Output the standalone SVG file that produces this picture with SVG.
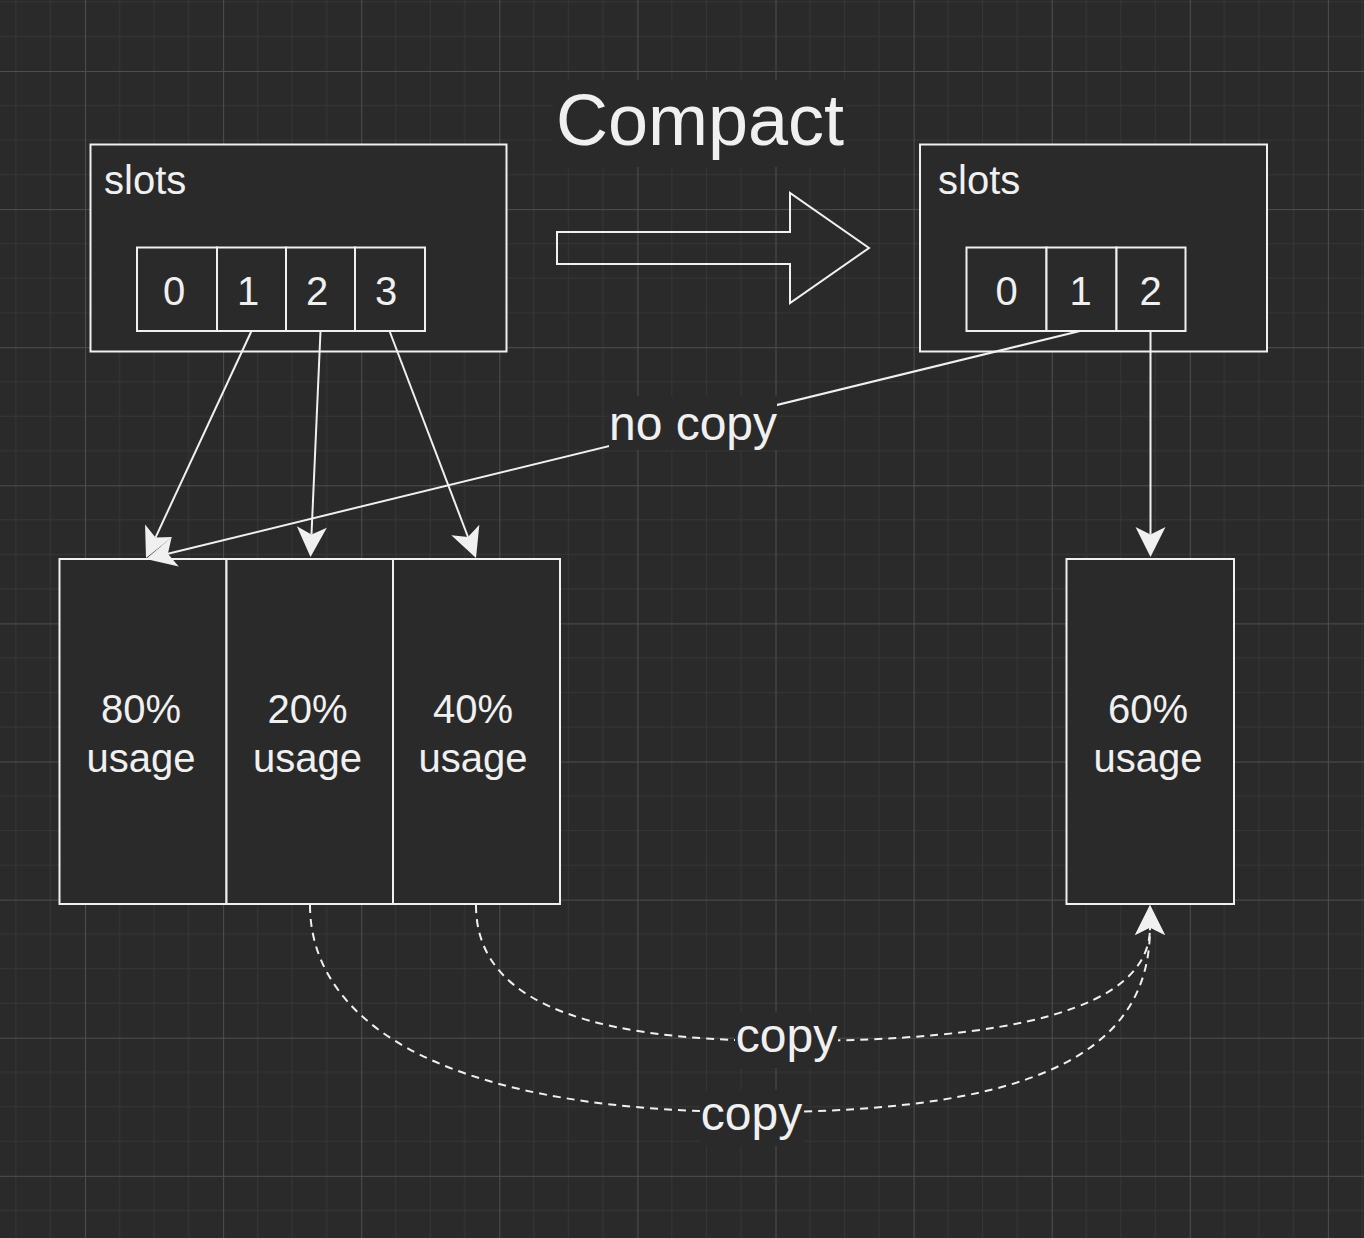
<svg xmlns="http://www.w3.org/2000/svg" width="1364" height="1238" viewBox="0 0 1364 1238">
  <style>
    .box { fill: #2a2a2a; stroke: #f0f0f0; stroke-width: 2; }
    .t { font-family: "Liberation Sans", Arial, Helvetica, sans-serif; fill: #f0f0f0; }
    .s40 { font-size: 40px; }
    .s48 { font-size: 48px; }
    .mid { text-anchor: middle; }
    .conn { fill: none; stroke: #f0f0f0; stroke-width: 2; }
    .dash { stroke-dasharray: 8 6; }
    .lblbg { fill: #2a2a2a; }
    .minor { stroke: #363636; stroke-width: 1; }
    .major { stroke: #4e4e4e; stroke-width: 1; }
  </style>
  <defs>
    <pattern id="grid" patternUnits="userSpaceOnUse" x="-53.1" y="-67.1" width="138.1" height="138.1">
      <line class="minor" x1="34.525" y1="0" x2="34.525" y2="138.1"/>
      <line class="minor" x1="69.05" y1="0" x2="69.05" y2="138.1"/>
      <line class="minor" x1="103.575" y1="0" x2="103.575" y2="138.1"/>
      <line class="minor" x1="0" y1="34.525" x2="138.1" y2="34.525"/>
      <line class="minor" x1="0" y1="69.05" x2="138.1" y2="69.05"/>
      <line class="minor" x1="0" y1="103.575" x2="138.1" y2="103.575"/>
      <line class="major" x1="0.5" y1="0" x2="0.5" y2="138.1"/>
      <line class="major" x1="0" y1="0.5" x2="138.1" y2="0.5"/>
    </pattern>
    <marker id="arrow" markerUnits="userSpaceOnUse" orient="auto" refX="0" refY="0" markerWidth="60" markerHeight="60" viewBox="-30 -30 60 60" overflow="visible">
      <path d="M22.5,0 L-7.5,-15 L0,0 L-7.5,15 Z" fill="#f0f0f0" stroke="none"/>
    </marker>
  </defs>

  <rect x="0" y="0" width="1364" height="1238" fill="#2a2a2a"/>
  <rect x="0" y="0" width="1364" height="1238" fill="url(#grid)"/>

  <g id="title">
    <rect class="lblbg" x="553" y="80" width="293" height="87"/>
    <text class="t mid" x="700" y="145" font-size="72">Compact</text>
  </g>

  <g id="compact-arrow">
    <polygon points="557,232 790,232 790,193 869,248 790,303 790,264 557,264" fill="none" stroke="#f0f0f0" stroke-width="2"/>
  </g>

  <g id="slots-before">
    <rect class="box" x="90.5" y="144.5" width="416" height="207"/>
    <text class="t s40" x="104" y="194">slots</text>
    <g id="slot-before-0"><rect class="box" x="137" y="247.5" width="80" height="83.5"/><text class="t s40 mid" x="174" y="305">0</text></g>
    <g id="slot-before-1"><rect class="box" x="217" y="247.5" width="69" height="83.5"/><text class="t s40 mid" x="248" y="305">1</text></g>
    <g id="slot-before-2"><rect class="box" x="286" y="247.5" width="69" height="83.5"/><text class="t s40 mid" x="317" y="305">2</text></g>
    <g id="slot-before-3"><rect class="box" x="355" y="247.5" width="70" height="83.5"/><text class="t s40 mid" x="386" y="305">3</text></g>
  </g>

  <g id="slots-after">
    <rect class="box" x="920" y="144.5" width="347" height="207"/>
    <text class="t s40" x="938" y="194">slots</text>
    <g id="slot-after-0"><rect class="box" x="966.5" y="247.5" width="80" height="83.5"/><text class="t s40 mid" x="1006.5" y="305">0</text></g>
    <g id="slot-after-1"><rect class="box" x="1046.5" y="247.5" width="70" height="83.5"/><text class="t s40 mid" x="1080.5" y="305">1</text></g>
    <g id="slot-after-2"><rect class="box" x="1116.5" y="247.5" width="69" height="83.5"/><text class="t s40 mid" x="1150.5" y="305">2</text></g>
  </g>

  <g id="page-80">
    <rect class="box" x="59.5" y="559" width="167" height="345"/>
    <text class="t s40 mid" x="141" y="723">80%</text>
    <text class="t s40 mid" x="141" y="771.5">usage</text>
  </g>
  <g id="page-20">
    <rect class="box" x="226.5" y="559" width="166.5" height="345"/>
    <text class="t s40 mid" x="307.5" y="723">20%</text>
    <text class="t s40 mid" x="307.5" y="771.5">usage</text>
  </g>
  <g id="page-40">
    <rect class="box" x="393" y="559" width="167" height="345"/>
    <text class="t s40 mid" x="473" y="723">40%</text>
    <text class="t s40 mid" x="473" y="771.5">usage</text>
  </g>
  <g id="page-60">
    <rect class="box" x="1066.5" y="559" width="167.5" height="345"/>
    <text class="t s40 mid" x="1148" y="723">60%</text>
    <text class="t s40 mid" x="1148" y="771.5">usage</text>
  </g>

  <g id="connectors">
    <line class="conn" x1="251.5" y1="331" x2="155.5" y2="537.6" marker-end="url(#arrow)"/>
    <line class="conn" x1="320.5" y1="331" x2="311.5" y2="534.5" marker-end="url(#arrow)"/>
    <line class="conn" x1="389.5" y1="331" x2="468" y2="537" marker-end="url(#arrow)"/>
    <line class="conn" x1="1080" y1="331" x2="167.9" y2="553.7" marker-end="url(#arrow)"/>
    <line class="conn" x1="1150.5" y1="331" x2="1150.5" y2="534.5" marker-end="url(#arrow)"/>
    <path class="conn dash" d="M310,905 C310,1010 420,1111 751,1112 C1050,1113 1150,1045 1150,927.5" marker-end="url(#arrow)"/>
    <path class="conn dash" d="M476,905 C476,990 560,1041 786,1041 C1010,1041 1150,1010 1150,927.5" marker-end="url(#arrow)"/>
    <g id="label-no-copy">
      <rect class="lblbg" x="609" y="396" width="168" height="54"/>
      <text class="t s48 mid" x="693" y="440">no copy</text>
    </g>
    <g id="label-copy-inner">
      <rect class="lblbg" x="735" y="1012" width="103" height="56"/>
      <text class="t s48 mid" x="786.5" y="1051.5">copy</text>
    </g>
    <g id="label-copy-outer">
      <rect class="lblbg" x="700" y="1090" width="103" height="56"/>
      <text class="t s48 mid" x="751.5" y="1130">copy</text>
    </g>
  </g>
</svg>
